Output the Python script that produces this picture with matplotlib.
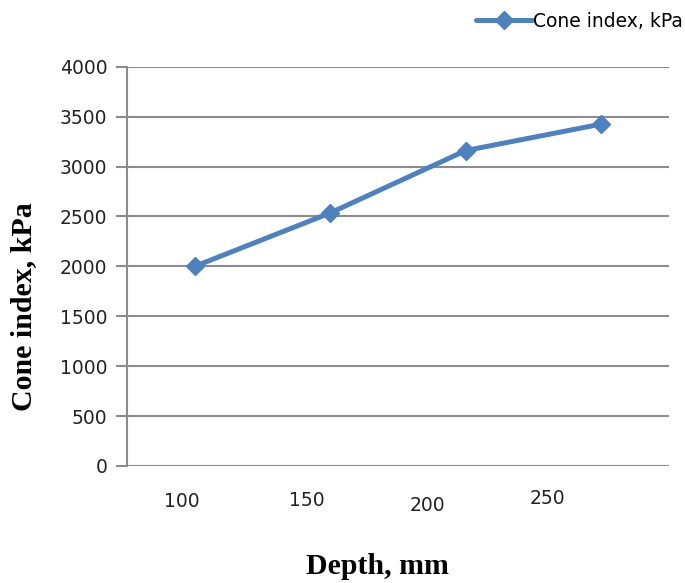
import matplotlib
matplotlib.use("Agg")
import matplotlib.pyplot as plt
from matplotlib.transforms import ScaledTranslation

# data (category axis, 4 depths)
depths = ["100", "150", "200", "250"]
cone_index = [2000, 2535, 3160, 3425]
y_ticks = [0, 500, 1000, 1500, 2000, 2500, 3000, 3500, 4000]

# the depth labels in the reference are hand-placed, left of the category centres
label_pos = [-0.094, 0.826, 1.721, 2.603]
label_dy = [0, 0.7, -2.4, 2.6]  # points, small vertical wobble

BLUE = "#4F81BD"
GRID = "#8c8c8c"
SANS = "DejaVu Sans"
SERIF = "Liberation Serif"

fig = plt.figure(figsize=(6.85, 5.83), dpi=100)
ax = fig.add_axes([0.1854, 0.2007, 0.7912, 0.6849])

x = list(range(len(depths)))
ax.plot(x, cone_index, color=BLUE, lw=3.6, marker="D", ms=9,
        label="Cone index, kPa", solid_capstyle="round")

ax.set_xlim(-0.5, len(depths) - 0.5)
ax.set_ylim(0, 4000)
ax.set_yticks(y_ticks)
ax.set_yticklabels([str(v) for v in y_ticks], fontsize=13.5, family=SANS)
ax.yaxis.grid(True, color=GRID, lw=1.5)
ax.set_axisbelow(True)
ax.tick_params(axis="y", length=8, color=GRID, width=1.5, pad=6, labelcolor="#222222")

ax.set_xticks(label_pos)
ax.set_xticklabels(depths, fontsize=13.5, family=SANS, color="#222222")
ax.tick_params(axis="x", length=0, pad=19)
for lbl, dy in zip(ax.get_xticklabels(), label_dy):
    lbl.set_transform(lbl.get_transform() + ScaledTranslation(0, dy / 72, fig.dpi_scale_trans))

for s in ("top", "right", "bottom"):
    ax.spines[s].set_visible(False)
ax.spines["left"].set_color(GRID)
ax.spines["left"].set_linewidth(1.5)

ax.set_ylabel("Cone index, kPa", family=SERIF, fontweight="bold", fontsize=21.5)
ax.yaxis.set_label_coords(-0.166, 0.40)
ax.set_xlabel("Depth, mm", family=SERIF, fontweight="bold", fontsize=21.5)
ax.xaxis.set_label_coords(0.463, -0.218)

fig.legend(loc="upper right", bbox_to_anchor=(0.997, 0.98), frameon=False,
           prop={"family": SANS, "size": 13.5}, handlelength=3.0,
           handletextpad=0.05, borderaxespad=0, borderpad=0)

fig.savefig("out.png", dpi=100)
